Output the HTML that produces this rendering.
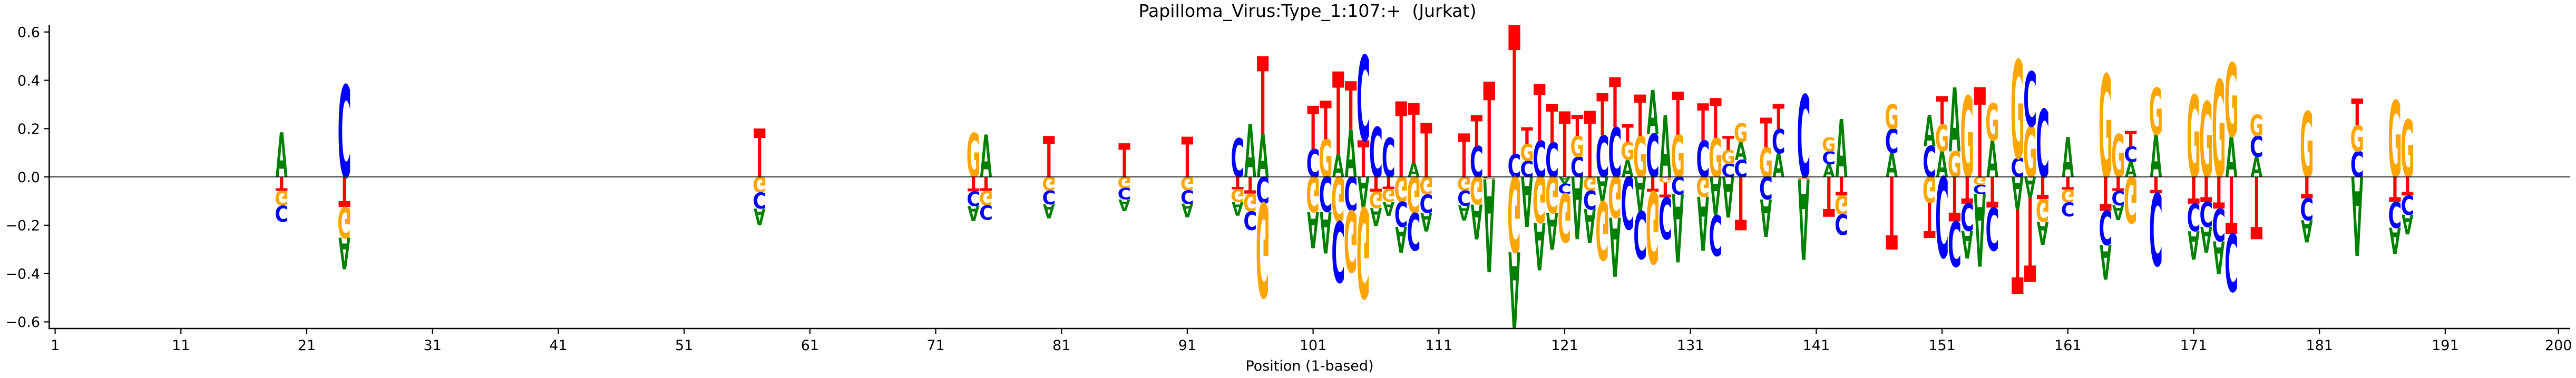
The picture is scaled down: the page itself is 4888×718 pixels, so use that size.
<!DOCTYPE html>
<html><head><meta charset="utf-8"><style>
html,body{margin:0;padding:0;background:#fff;}
svg{display:block;}
text{font-family:"DejaVu Sans","Liberation Sans",sans-serif;}
</style></head><body>
<svg id="chart" xmlns="http://www.w3.org/2000/svg" width="4888" height="718" viewBox="0 0 4888 718">
<rect x="0" y="0" width="4888" height="718" fill="#fff"/>
<text x="2481" y="32" font-size="33" text-anchor="middle" textLength="641" lengthAdjust="spacingAndGlyphs" xml:space="preserve" style="white-space:pre">Papilloma_Virus:Type_1:107:+  (Jurkat)</text>
<g id="logo"></g>
<g id="axes"></g>
<text x="2485" y="704" font-size="27" text-anchor="middle">Position (1-based)</text>
</svg>
<script>
const positions = [19,24,57,74,75,80,86,91,95,96,97,101,102,103,104,105,106,107,108,109,110,113,114,115,117,118,119,120,121,122,123,124,125,126,127,128,129,130,132,133,134,135,137,138,140,142,143,147,150,151,152,153,154,155,157,158,159,161,164,165,166,168,171,172,173,174,176,180,184,187,188];
const valA = [0.184,-0.13,-0.069,-0.063,0.176,-0.058,-0.048,-0.057,-0.056,0.22,0.18,-0.149,-0.172,0.093,0.197,-0.129,-0.073,-0.058,-0.106,0.059,-0.078,-0.063,-0.144,-0.385,-0.316,-0.207,-0.196,-0.152,-0.028,-0.258,-0.14,-0.102,-0.245,0.071,-0.143,0.181,0.256,-0.282,-0.224,-0.159,-0.169,0.074,-0.154,0.098,-0.333,0.052,0.24,0.099,0.129,0.107,0.265,-0.115,-0.302,0.152,-0.136,-0.086,-0.095,0.164,-0.143,-0.061,0.062,0.176,-0.117,-0.106,-0.136,0.169,0.084,-0.092,-0.327,-0.108,-0.082];
const valC = [-0.066,0.381,-0.067,-0.061,-0.06,-0.057,-0.047,-0.056,0.16,-0.077,-0.11,0.115,-0.145,-0.252,-0.141,0.352,0.207,0.162,-0.104,-0.154,-0.075,-0.062,0.127,-0.005,0.095,0.067,0.15,0.143,-0.042,0.084,-0.078,0.172,0.206,-0.217,-0.197,0.179,-0.173,-0.072,0.152,-0.168,0.055,0.071,-0.093,0.1,0.341,0.054,-0.085,0.101,0.127,-0.334,-0.187,-0.113,-0.038,-0.177,0.079,0.227,0.281,-0.058,-0.142,-0.059,0.064,-0.3,-0.113,-0.104,-0.135,-0.239,0.086,-0.091,0.106,-0.106,-0.079];
const valG = [-0.06,-0.127,-0.064,0.182,-0.059,-0.056,-0.046,-0.055,-0.053,-0.073,-0.39,-0.146,0.157,-0.185,-0.254,-0.374,-0.068,-0.053,-0.103,-0.15,-0.073,-0.056,-0.114,-0.005,-0.312,0.069,-0.19,-0.15,-0.202,0.086,-0.056,-0.243,-0.169,0.073,0.169,-0.299,-0.024,0.176,-0.082,0.162,0.056,0.077,0.122,0,-0.006,0.058,-0.079,0.102,-0.108,0.111,0.106,0.336,-0.032,0.153,0.406,0.21,-0.094,-0.054,0.426,0.178,-0.191,0.193,0.34,0.313,0.403,0.304,0.088,0.272,0.108,0.317,0.238];
const valT = [-0.058,-0.125,0.2,-0.06,-0.058,0.169,0.139,0.166,-0.051,-0.07,0.32,0.18,0.159,0.344,0.199,0.152,-0.061,-0.05,0.313,0.247,0.224,0.18,0.129,0.395,0.535,0.07,0.234,0.159,0.272,0.087,0.274,0.174,0.207,0.074,0.171,-0.061,-0.061,0.178,0.153,0.165,0.058,-0.221,0.124,0.104,-0.005,-0.164,-0.077,-0.301,-0.145,0.116,-0.184,-0.11,0.372,-0.127,-0.348,-0.349,-0.092,-0.052,-0.14,-0.058,0.065,-0.068,-0.111,-0.103,-0.132,-0.236,-0.258,-0.089,0.111,-0.104,-0.077];
const yTicks = [0.6,0.4,0.2,0.0,-0.2,-0.4,-0.6];
const xTicks = [1,11,21,31,41,51,61,71,81,91,101,111,121,131,141,151,161,171,181,191,200];

const NS = "http://www.w3.org/2000/svg";
const X = p => 104.6 + (p - 1) * 23.87;
const Y = v => 336.1 - v * 458.9;
const colors = {A:"#008000", C:"#0000ff", G:"#ffa500", T:"#ff0000"};
const ink = {A:77, C:64, G:70, T:68};
const W = 22.5;
const logo = document.getElementById("logo");
const axes = document.getElementById("axes");

function drawLetter(letter, p, v0, v1, neg) {
  const t = document.createElementNS(NS, "text");
  
  
  t.textContent = letter;
  t.setAttribute("font-size", "100");
  t.setAttribute("font-weight", "bold");
  t.setAttribute("text-anchor", "middle");
  t.setAttribute("fill", colors[letter]);
  const h = Math.abs(Y(v1) - Y(v0));
  const sx = W / ink[letter];
  const sy = h / 73;
  const base = Y(v0);
  t.setAttribute("transform", "translate(" + X(p) + "," + base + ") scale(" + sx + "," + (neg ? -sy : sy) + ")");
  logo.appendChild(t);
}

positions.forEach((p, i) => {
  const vals = [["A", valA[i]], ["C", valC[i]], ["G", valG[i]], ["T", valT[i]]];
  const pos = vals.filter(d => d[1] > 0).sort((a, b) => a[1] - b[1]);
  const neg = vals.filter(d => d[1] < 0).sort((a, b) => b[1] - a[1]);
  let acc = 0;
  pos.forEach(d => { drawLetter(d[0], p, acc, acc + d[1], false); acc += d[1]; });
  acc = 0;
  neg.forEach(d => { drawLetter(d[0], p, acc, acc + d[1], true); acc += d[1]; });
});

function line(x1, y1, x2, y2, w, name) {
  const l = document.createElementNS(NS, "line");
  
  
  l.setAttribute("x1", x1); l.setAttribute("y1", y1);
  l.setAttribute("x2", x2); l.setAttribute("y2", y2);
  l.setAttribute("stroke", "#000"); l.setAttribute("stroke-width", w);
  axes.appendChild(l);
}
line(93.4, Y(0), 4877, Y(0), 1.6, "zero-line");
line(93.4, 47, 93.4, 625, 2.6, "y-axis-spine");
line(92, 624, 4877, 624, 2.6, "x-axis-spine");
yTicks.forEach(v => {
  line(84, Y(v), 93.4, Y(v), 2.2, "y-tick");
  const t = document.createElementNS(NS, "text");
  
  
  t.setAttribute("x", 76); t.setAttribute("y", Y(v) + 9.8);
  t.setAttribute("font-size", "27"); t.setAttribute("text-anchor", "end");
  t.textContent = (v < 0 ? "\u2212" : "") + Math.abs(v).toFixed(1);
  axes.appendChild(t);
});
xTicks.forEach(p => {
  line(X(p), 624, X(p), 634, 2.2, "x-tick");
  const t = document.createElementNS(NS, "text");
  
  
  t.setAttribute("x", X(p)); t.setAttribute("y", 665);
  t.setAttribute("font-size", "27"); t.setAttribute("text-anchor", "middle");
  t.textContent = String(p);
  axes.appendChild(t);
});
</script>
</body></html>
